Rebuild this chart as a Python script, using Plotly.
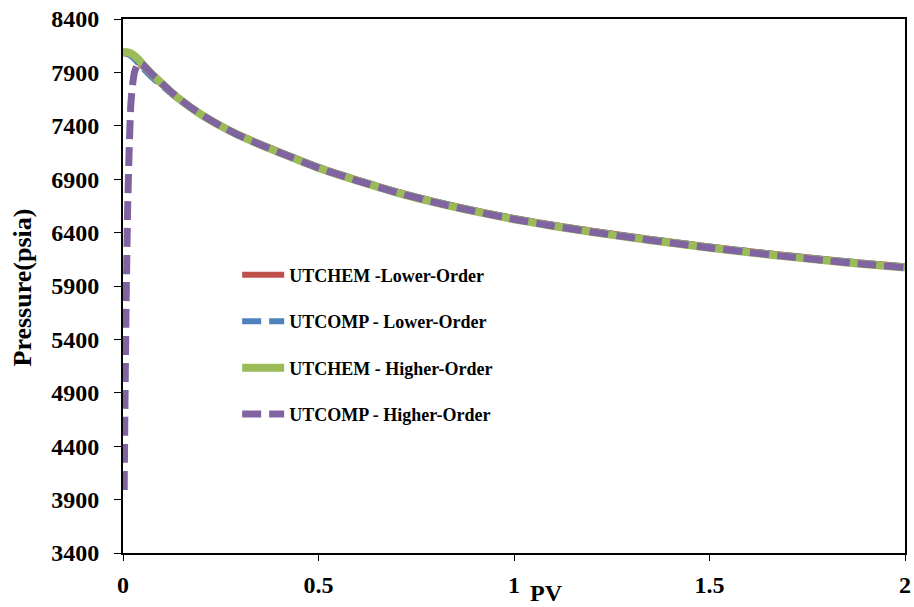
import plotly.graph_objects as go

# Pore volumes injected and the matching pressure readings (psia)
pv_main = [0, 0.01, 0.02, 0.03, 0.04, 0.05, 0.075, 0.1, 0.125, 0.15, 0.2, 0.25, 0.3, 0.35,
           0.4, 0.5, 0.6, 0.7, 0.8, 0.9, 1.0, 1.1, 1.2, 1.3, 1.4, 1.5, 1.6, 1.7, 1.8, 1.9, 2.0]

utchem_lower = [8082, 8078, 8062, 8032, 7995, 7955, 7862, 7782, 7702, 7630, 7510, 7405, 7313, 7235,
                7160, 7017, 6897, 6787, 6692, 6610, 6537, 6474, 6417, 6365, 6317, 6270, 6227, 6187, 6150, 6116, 6084]

utcomp_lower = [8080, 8074, 8055, 8022, 7982, 7942, 7850, 7772, 7695, 7625, 7507, 7403, 7312, 7234,
                7159, 7016, 6896, 6786, 6691, 6609, 6536, 6473, 6416, 6364, 6316, 6269, 6226, 6186, 6149, 6115, 6083]

utchem_higher = [8090, 8088, 8078, 8055, 8020, 7978, 7880, 7795, 7710, 7635, 7505, 7398, 7305, 7225,
                 7150, 7005, 6885, 6775, 6680, 6598, 6525, 6462, 6405, 6353, 6305, 6258, 6215, 6175, 6138, 6104, 6072]

pv_utcomp_higher = [0.003, 0.005, 0.008, 0.012, 0.016, 0.02, 0.025, 0.03, 0.04, 0.05, 0.075, 0.1, 0.125,
                    0.15, 0.2, 0.25, 0.3, 0.35, 0.4, 0.5, 0.6, 0.7, 0.8, 0.9, 1.0, 1.1, 1.2, 1.3, 1.4,
                    1.5, 1.6, 1.7, 1.8, 1.9, 2.0]
utcomp_higher = [3990, 4800, 5750, 6650, 7200, 7600, 7800, 7910, 7990, 7975, 7880, 7795, 7710,
                 7635, 7505, 7398, 7305, 7225, 7150, 7005, 6885, 6775, 6680, 6598, 6525, 6462, 6405, 6353, 6305,
                 6258, 6215, 6175, 6138, 6104, 6072]

y_ticks = [3400, 3900, 4400, 4900, 5400, 5900, 6400, 6900, 7400, 7900, 8400]
x_ticks = [0, 0.5, 1, 1.5, 2]
x_tick_text = ["0", "0.5", "1", "1.5", "2"]

FONT = "Liberation Serif"

fig = go.Figure()
fig.add_trace(go.Scatter(x=pv_main, y=utchem_lower, mode="lines", name="UTCHEM -Lower-Order",
                         legendgroup="a", line=dict(color="#C0504D", width=6, shape="spline", smoothing=0.6)))
fig.add_trace(go.Scatter(x=pv_main, y=utcomp_lower, mode="lines", name="UTCOMP - Lower-Order",
                         legendgroup="b", line=dict(color="#4F81BD", width=6, dash="19px,8px",
                                                    shape="spline", smoothing=0.6)))
fig.add_trace(go.Scatter(x=pv_main, y=utchem_higher, mode="lines", name="UTCHEM - Higher-Order",
                         legendgroup="c", line=dict(color="#9BBB59", width=8, shape="spline", smoothing=0.6)))
fig.add_trace(go.Scatter(x=pv_utcomp_higher, y=utcomp_higher, mode="lines", name="UTCOMP - Higher-Order",
                         legendgroup="d", line=dict(color="#8064A2", width=7, dash="19px,8px",
                                                    shape="spline", smoothing=0.5)))

fig.update_layout(
    width=914, height=607,
    margin=dict(l=123, r=9, t=19, b=54, autoexpand=False),
    paper_bgcolor="white", plot_bgcolor="white",
    font=dict(family=FONT, color="black"),
    showlegend=True,
    legend=dict(x=0.146, y=0.555, xanchor="left", yanchor="top",
                bgcolor="rgba(0,0,0,0)", borderwidth=0, itemwidth=42,
                tracegroupgap=20, itemclick=False,
                font=dict(family=FONT, size=18, color="black", weight="bold")),
    xaxis=dict(range=[0, 2], tickvals=x_ticks, ticktext=x_tick_text,
               showgrid=False, zeroline=False, automargin=False,
               showline=True, linecolor="black", linewidth=2, mirror=True,
               ticks="outside", ticklen=6, tickwidth=1, tickcolor="black",
               ticklabelstandoff=3,
               tickfont=dict(family=FONT, size=24, color="black", weight="bold")),
    yaxis=dict(range=[3400, 8400], tickvals=y_ticks,
               showgrid=False, zeroline=False, automargin=False,
               showline=True, linecolor="black", linewidth=2, mirror=True,
               ticks="outside", ticklen=7, tickwidth=1, tickcolor="black",
               ticklabelstandoff=10,
               tickfont=dict(family=FONT, size=24, color="black", weight="bold")),
    annotations=[
        dict(text="Pressure(psia)", xref="paper", yref="paper", x=-0.128, y=0.497,
             xanchor="center", yanchor="middle", textangle=-90, showarrow=False,
             font=dict(family=FONT, size=26, color="black", weight="bold")),
        dict(text="PV", xref="paper", yref="paper", x=0.542, y=-0.075,
             xanchor="center", yanchor="middle", showarrow=False,
             font=dict(family=FONT, size=24, color="black", weight="bold")),
    ],
)

fig.write_html("out.html")
